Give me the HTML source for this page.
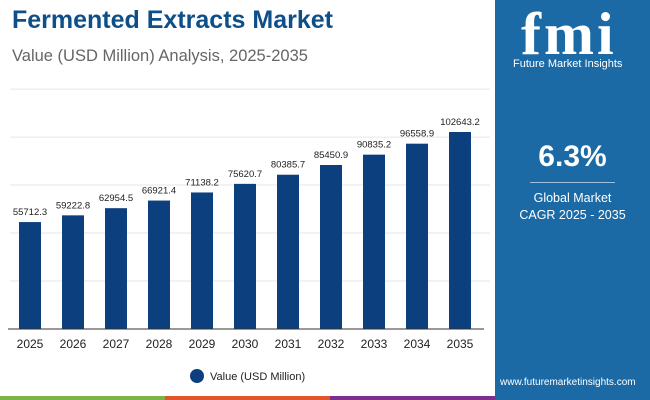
<!DOCTYPE html>
<html><head><meta charset="utf-8"><style>
body{margin:0;width:650px;height:400px;overflow:hidden;background:#fff;font-family:"Liberation Sans",sans-serif;position:relative}
.t{position:absolute;white-space:nowrap}
</style></head><body>
<div class="t" style="left:12px;top:6px;font-size:25px;font-weight:bold;color:#0e4f8a">Fermented Extracts Market</div>
<div class="t" style="left:12px;top:47px;font-size:16.5px;color:#666">Value (USD Million) Analysis, 2025-2035</div>
<div style="position:absolute;left:495px;top:0;width:155px;height:400px;background:#1b6aa6">
  <div class="t" style="left:26px;top:0px;font-size:60px;font-weight:bold;color:#fff;font-family:'Liberation Serif',serif;letter-spacing:3px">fmi</div>
  <div class="t" style="left:18px;top:58px;font-size:11px;color:#fff">Future Market Insights</div>
  <div class="t" style="left:0;width:155px;text-align:center;top:140px;font-size:30px;font-weight:bold;color:#fff">6.3%</div>
  <div style="position:absolute;left:35px;top:182px;width:85px;height:1px;background:#9cc0de"></div>
  <div class="t" style="left:0;width:155px;text-align:center;top:190px;font-size:12.5px;line-height:17px;color:#fff">Global Market<br>CAGR 2025 - 2035</div>
  <div class="t" style="left:5px;top:377px;font-size:10px;color:#fff">www.futuremarketinsights.com</div>
</div>
<div style="position:absolute;left:0;top:396px;width:165px;height:4px;background:#7cb342"></div>
<div style="position:absolute;left:165px;top:396px;width:165px;height:4px;background:#e0562a"></div>
<div style="position:absolute;left:330px;top:396px;width:165px;height:4px;background:#7b2f8e"></div>
<svg id="c" width="495" height="396" style="position:absolute;left:0;top:0"></svg>
<script>
const categories=["2025","2026","2027","2028","2029","2030","2031","2032","2033","2034","2035"];
const values=[55712.3,59222.8,62954.5,66921.4,71138.2,75620.7,80385.7,85450.9,90835.2,96558.9,102643.2];
const gridTicks=[0,25000,50000,75000,100000,125000];
const svg=document.getElementById('c');const NS='http://www.w3.org/2000/svg';
const y=v=>329-v*197/102643.2; const x=i=>30+i*43;
function mk(t,a){const e=document.createElementNS(NS,t);for(const k in a)e.setAttribute(k,a[k]);svg.appendChild(e);return e;}
gridTicks.forEach(g=>{if(g===0)return;const l=mk('line',{x1:10,x2:490,y1:y(g),y2:y(g),stroke:'#e6e6e6','stroke-width':1});

});
values.forEach((v,i)=>{
const r=mk('rect',{x:x(i)-11,y:y(v),width:22,height:329-y(v),fill:'#0c3f7d'});


const t=mk('text',{x:x(i),y:y(v)-7,'text-anchor':'middle','font-size':9.5,fill:'#222'});t.textContent=v.toFixed(1);


const c=mk('text',{x:x(i),y:348,'text-anchor':'middle','font-size':12,fill:'#222'});c.textContent=categories[i];


});
const ax=mk('line',{x1:8,x2:484,y1:329,y2:329,stroke:'#333','stroke-width':1});


const lg=mk('circle',{cx:197,cy:376,r:7,fill:'#0c3f7d'});


const lt=mk('text',{x:210,y:380,'font-size':11,fill:'#222'});lt.textContent='Value (USD Million)';


</script>
</body></html>
